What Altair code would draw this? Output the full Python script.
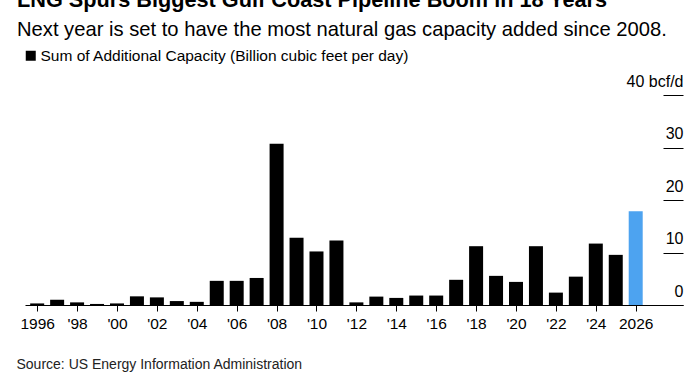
import altair as alt
import pandas as pd

years = list(range(1996, 2027))
capacity = [0.3, 1.0, 0.5, 0.2, 0.3, 1.65, 1.45, 0.75, 0.6, 4.6, 4.6, 5.15,
            30.7, 12.8, 10.2, 12.3, 0.5, 1.6, 1.35, 1.8, 1.8, 4.8, 11.2, 5.55,
            4.4, 11.2, 2.36, 5.4, 11.7, 9.55, 17.85]
series_name = "Sum of Additional Capacity (Billion cubic feet per day)"
highlight_name = "2026"
series = [series_name if y < 2026 else highlight_name for y in years]
x_ticks = list(range(1996, 2027, 2))
y_ticks = [0, 10, 20, 30, 40]

df = pd.DataFrame({"year": years, "capacity": capacity, "series": series})

FONT = "Liberation Sans"

bars = alt.Chart(df).mark_bar(size=14).encode(
    x=alt.X(
        "year:Q",
        scale=alt.Scale(domain=[1995.64, 2028.12], nice=False, zero=False),
        axis=alt.Axis(
            values=x_ticks,
            labelExpr="datum.value == 1996 || datum.value == 2026 ? '' + datum.value : \"'\" + slice('' + datum.value, 2)",
            grid=False,
            domainColor="#000000",
            domainWidth=1,
            tickColor="#000000",
            tickSize=6,
            labelFontSize=15.5,
            labelColor="#000000",
            labelPadding=5,
            labelFlush=False,
            labelOverlap=False,
            title="Source: US Energy Information Administration",
            titleX=-9,
            titleY=63,
            titleAlign="left",
            titleAnchor="start",
            titleBaseline="alphabetic",
            titleFontSize=14,
            titleFontWeight="normal",
            titleColor="#222222",
        ),
    ),
    y=alt.Y(
        "capacity:Q",
        scale=alt.Scale(domain=[0, 40], nice=False),
        axis=alt.Axis(
            orient="right",
            offset=-20,
            values=y_ticks,
            labelExpr="datum.value == 40 ? '40 bcf/d' : datum.label",
            domain=False,
            grid=False,
            ticks=True,
            tickSize=20,
            tickColor="#000000",
            tickWidth=1,
            labelAlign="right",
            labelBaseline="alphabetic",
            labelPadding=0,
            labelOffset=-9,
            labelFontSize=16,
            labelColor="#000000",
            title=None,
        ),
    ),
    color=alt.Color(
        "series:N",
        scale=alt.Scale(domain=[series_name, highlight_name], range=["#000000", "#4da3f0"]),
        legend=alt.Legend(
            values=[series_name],
            title=None,
            orient="none",
            legendX=-2,
            legendY=-47,
            symbolType="square",
            symbolSize=100,
            symbolStrokeWidth=0,
            labelFontSize=15.5,
            labelColor="#000000",
            labelOffset=2,
            labelLimit=1000,
            padding=0,
        ),
    ),
)

chart = bars.properties(
    width=658,
    height=210,
    autosize=alt.AutoSizeParams(type="none"),
    padding={"left": 25, "top": 95, "right": 17, "bottom": 70},
    title=alt.TitleParams(
        text="LNG Spurs Biggest Gulf Coast Pipeline Boom in 18 Years",
        subtitle="Next year is set to have the most natural gas capacity added since 2008.",
        anchor="start",
        frame="group",
        fontSize=21.7,
        fontWeight="bold",
        color="#000000",
        subtitleFontSize=20.2,
        subtitleColor="#000000",
        subtitlePadding=8,
        dx=-8,
        offset=8,
    ),
).configure(
    font=FONT,
    background="#ffffff",
).configure_view(
    stroke=None,
)

chart.save("out.html", embed_options={"renderer": "svg", "actions": False})
